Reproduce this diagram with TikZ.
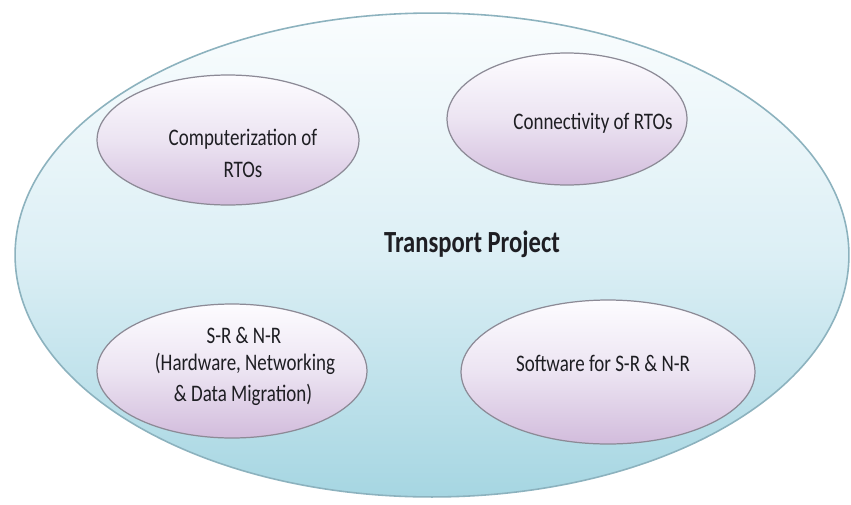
\documentclass[tikz,border=0pt]{standalone}
\usepackage{fontspec}
\setmainfont[FakeStretch=0.8]{Carlito}
\usetikzlibrary{shapes.geometric}
\definecolor{outertop}{RGB}{250,253,254}
\definecolor{outermid}{RGB}{220,239,245}
\definecolor{outerbot}{RGB}{166,214,226}
\definecolor{outerline}{RGB}{140,178,190}
\definecolor{innertop}{RGB}{253,252,255}
\definecolor{innermid}{RGB}{236,228,242}
\definecolor{innerbot}{RGB}{210,188,220}
\definecolor{innerline}{RGB}{140,138,150}
\definecolor{txt}{RGB}{30,30,35}
\tikzset{
  outerell/.style={ellipse, inner sep=0pt, draw=outerline, line width=0.9pt,
    top color=outertop, bottom color=outerbot, middle color=outermid},
  innerell/.style={ellipse, inner sep=0pt, draw=innerline, line width=0.7pt,
    top color=innertop, bottom color=innerbot, middle color=innermid},
  lbl/.style={text=txt, font=\fontsize{13.5}{17}\selectfont, align=center, inner sep=0pt},
  title/.style={text=txt, font=\fontsize{17.5}{21}\selectfont\bfseries, inner sep=0pt}
}
\begin{document}
\begin{tikzpicture}[x=0.02cm,y=-0.02cm]
\useasboundingbox (0,0) rectangle (851,504);
\fill[white] (0,0) rectangle (851,504);
\node[outerell, minimum width=16.68cm, minimum height=9.68cm] (outer) at (432,255) {};
\node[innerell, minimum width=5.24cm, minimum height=2.6cm] (e1) at (228,140) {};
\node[innerell, minimum width=4.8cm, minimum height=2.64cm] (e2) at (567,119) {};
\node[innerell, minimum width=5.4cm, minimum height=2.68cm] (e3) at (232,371) {};
\node[innerell, minimum width=5.88cm, minimum height=2.88cm] (e4) at (608,372) {};
\node[title] (t0) at (472,244) {Transport Project};
\node[lbl] (t1a) at (243,139) {Computerization of};
\node[lbl] (t1b) at (243,170) {RTOs};
\node[lbl] (t2) at (593,123) {Connectivity of RTOs};
\node[lbl] (t3a) at (244,335) {S-R \& N-R};
\node[lbl] (t3b) at (245,364) {(Hardware, Networking};
\node[lbl] (t3c) at (243,395) {\& Data Migration)};
\node[lbl] (t4) at (603,363) {Software for S-R \& N-R};
\end{tikzpicture}
\end{document}
